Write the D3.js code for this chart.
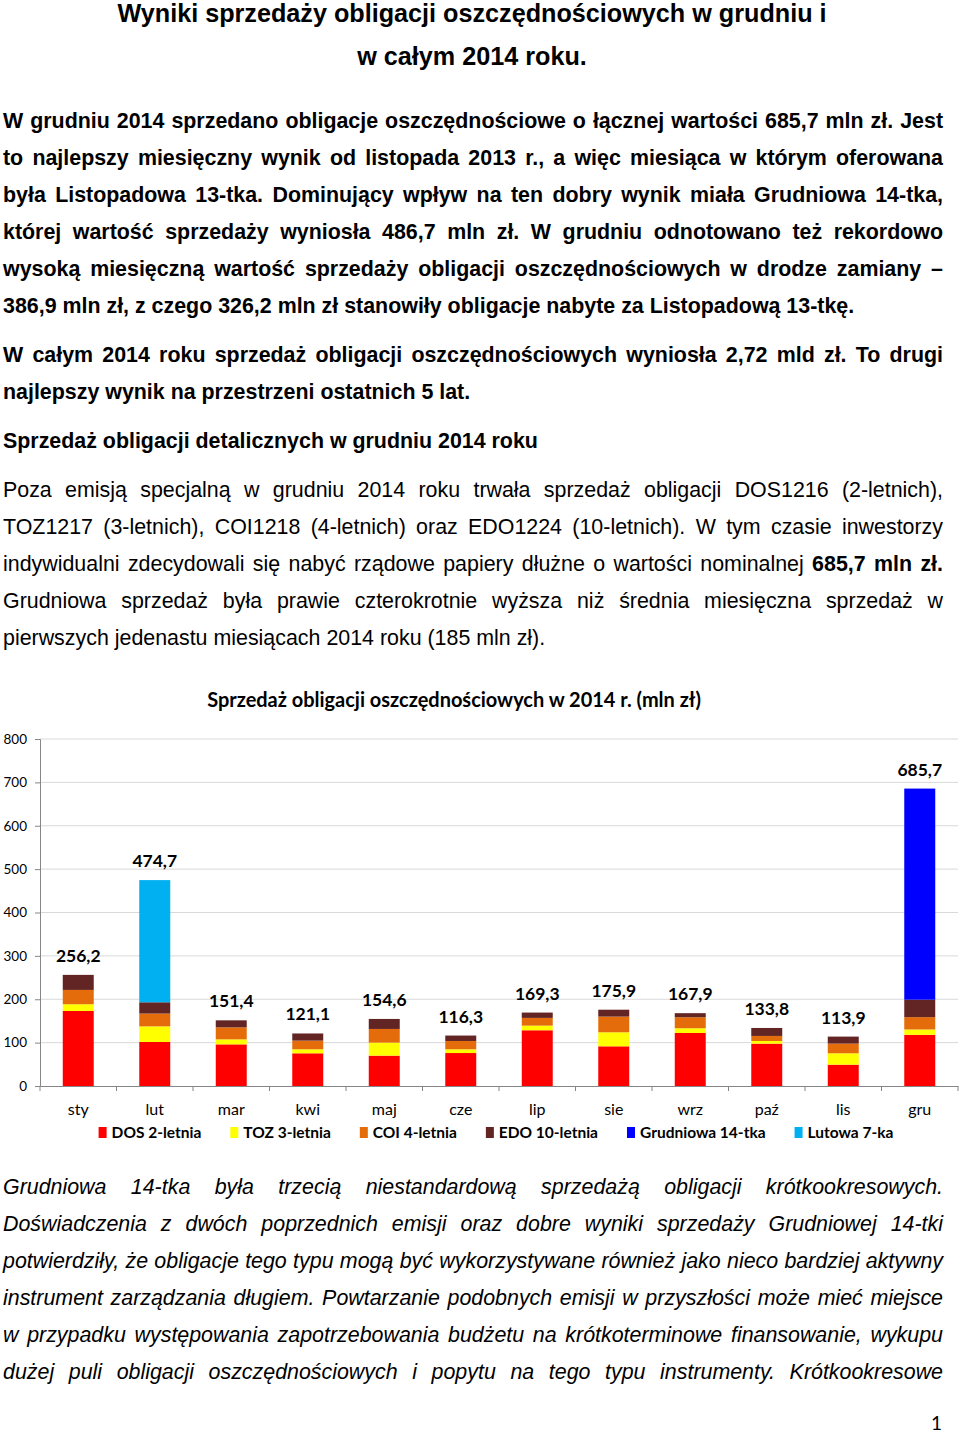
<!DOCTYPE html>
<html lang="pl">
<head>
<meta charset="utf-8">
<script src="https://cdn.jsdelivr.net/npm/d3@7"></script>
<style>
html,body{margin:0;padding:0;background:#fff;}
svg{display:block;}
.doc{font-family:"Liberation Sans",Arial,sans-serif;fill:#000;}
.chartf{font-family:Lato,"Open Sans",sans-serif;}
</style>
</head>
<body>
<svg id="page" width="960" height="1433"></svg>
<script>
// ---------- chart data ----------
const months = ["sty","lut","mar","kwi","maj","cze","lip","sie","wrz","paź","lis","gru"];
const dos       = [173, 101.5, 96, 75.4, 70, 76, 128.5, 91.5, 122.3, 97.7, 49.2, 118];
const toz       = [15.5, 36, 11.5, 9.2, 30, 8.6, 10.7, 32.3, 10.8, 6.1, 26.2, 12.3];
const coi       = [33, 29.5, 27.7, 20, 31.5, 19.2, 17.8, 36.2, 25.4, 11.6, 22.3, 28.5];
const edo       = [34.7, 26, 16.2, 16.5, 23.1, 12.5, 12.3, 15.9, 9.4, 18.4, 16.2, 40.2];
const grudniowa = [0, 0, 0, 0, 0, 0, 0, 0, 0, 0, 0, 486.7];
const lutowa    = [0, 281.7, 0, 0, 0, 0, 0, 0, 0, 0, 0, 0];
const totals    = [256.2, 474.7, 151.4, 121.1, 154.6, 116.3, 169.3, 175.9, 167.9, 133.8, 113.9, 685.7];
const seriesNames = ["DOS 2-letnia","TOZ 3-letnia","COI 4-letnia","EDO 10-letnia","Grudniowa 14-tka","Lutowa 7-ka"];
const seriesColors = ["#FF0000","#FFFF00","#E46C0A","#632523","#0000FF","#00B0F0"];
const yTicks = [0,100,200,300,400,500,600,700,800];
const chartTitle = "Sprzedaż obligacji oszczędnościowych w 2014 r. (mln zł)";

// ---------- document text ----------
const titleLines = ["Wyniki sprzedaży obligacji oszczędnościowych w grudniu i", "w całym 2014 roku."];
const bodyLines = [
  {y:128, w:"bold", j:true, parts:[["W grudniu 2014 sprzedano obligacje oszczędnościowe o łącznej wartości 685,7 mln zł. Jest"]]},
  {y:165, w:"bold", j:true, parts:[["to najlepszy miesięczny wynik od listopada 2013 r., a więc miesiąca w którym oferowana"]]},
  {y:202, w:"bold", j:true, parts:[["była Listopadowa 13-tka. Dominujący wpływ na ten dobry wynik miała Grudniowa 14-tka,"]]},
  {y:239, w:"bold", j:true, parts:[["której wartość sprzedaży wyniosła 486,7 mln zł. W grudniu odnotowano też rekordowo"]]},
  {y:276, w:"bold", j:true, parts:[["wysoką miesięczną wartość sprzedaży obligacji oszczędnościowych w drodze zamiany –"]]},
  {y:313, w:"bold", j:false, parts:[["386,9 mln zł, z czego 326,2 mln zł stanowiły obligacje nabyte za Listopadową 13-tkę."]]},
  {y:362, w:"bold", j:true, parts:[["W całym 2014 roku sprzedaż obligacji oszczędnościowych wyniosła 2,72 mld zł. To drugi"]]},
  {y:399, w:"bold", j:false, parts:[["najlepszy wynik na przestrzeni ostatnich 5 lat."]]},
  {y:448, w:"bold", j:false, parts:[["Sprzedaż obligacji detalicznych w grudniu 2014 roku"]]},
  {y:497, w:"normal", j:true, parts:[["Poza emisją specjalną w grudniu 2014 roku trwała sprzedaż obligacji DOS1216 (2-letnich),"]]},
  {y:534, w:"normal", j:true, parts:[["TOZ1217 (3-letnich), COI1218 (4-letnich) oraz EDO1224 (10-letnich). W tym czasie inwestorzy"]]},
  {y:571, w:"normal", j:true, parts:[["indywidualni zdecydowali się nabyć rządowe papiery dłużne o wartości nominalnej "],["685,7 mln zł.","bold"]]},
  {y:608, w:"normal", j:true, parts:[["Grudniowa sprzedaż była prawie czterokrotnie wyższa niż średnia miesięczna sprzedaż w"]]},
  {y:645, w:"normal", j:false, parts:[["pierwszych jedenastu miesiącach 2014 roku (185 mln zł)."]]},
  {y:1194, w:"normal", it:true, j:true, parts:[["Grudniowa 14-tka była trzecią niestandardową sprzedażą obligacji krótkookresowych."]]},
  {y:1231, w:"normal", it:true, j:true, parts:[["Doświadczenia z dwóch poprzednich emisji oraz dobre wyniki sprzedaży Grudniowej 14-tki"]]},
  {y:1268, w:"normal", it:true, j:true, parts:[["potwierdziły, że obligacje tego typu mogą być wykorzystywane również jako nieco bardziej aktywny"]]},
  {y:1305, w:"normal", it:true, j:true, parts:[["instrument zarządzania długiem. Powtarzanie podobnych emisji w przyszłości może mieć miejsce"]]},
  {y:1342, w:"normal", it:true, j:true, parts:[["w przypadku występowania zapotrzebowania budżetu na krótkoterminowe finansowanie, wykupu"]]},
  {y:1379, w:"normal", it:true, j:true, parts:[["dużej puli obligacji oszczędnościowych i popytu na tego typu instrumenty. Krótkookresowe"]]}
];

const svg = d3.select("#page");

// Title
svg.append("g").attr("class","doc")
  .selectAll("text").data(titleLines).join("text")
  .attr("x", 472).attr("y", (d,i)=> i===0 ? 22 : 65)
  .attr("text-anchor","middle").attr("font-size", 25.2).attr("font-weight","bold")
  .text(d=>d);

// Body text, justified by word spacing
const LEFT = 3, WIDTH = 940, FS = 21.4;
const bodyG = svg.append("g").attr("class","doc");
bodyLines.forEach(L => {
  const t = bodyG.append("text").attr("x", LEFT).attr("y", L.y)
    .attr("font-size", FS).attr("font-weight", L.w)
    .attr("font-style", L.it ? "italic" : "normal")
    .attr("xml:space","preserve");
  L.parts.forEach(p => {
    t.append("tspan").attr("font-weight", p[1] || L.w).text(p[0]);
  });
  if (L.j) {
    const natural = t.node().getComputedTextLength();
    const full = L.parts.map(p=>p[0]).join("");
    const spaces = (full.trim().match(/ /g) || []).length;
    if (spaces > 0) t.attr("word-spacing", (WIDTH - natural) / spaces);
  }
});

// Page number
svg.append("text").attr("class","chartf").attr("x", 942).attr("y", 1430)
  .attr("text-anchor","end").attr("font-size", 19).attr("fill","#000").text("1");

// ---------- Chart ----------
const x0 = 40, x1 = 958, yBase = 1086, yTop = 739;
const x = d3.scaleBand().domain(months).range([x0, x1]).paddingInner(0.595).paddingOuter(0.2975);
const y = d3.scaleLinear().domain([0, 800]).range([yBase, yTop]);

const chart = svg.append("g").attr("class","chartf");

// chart title, sized to span the same width as in the reference
const ttl = chart.append("text").attr("x", 454).attr("y", 707).attr("text-anchor","middle")
  .attr("font-size", 20).attr("font-weight","bold").attr("fill","#000").text(chartTitle);
const tw = ttl.node().getComputedTextLength();
ttl.attr("font-size", 20 * 494 / tw);

// gridlines
chart.append("g").selectAll("line").data(yTicks.filter(d=>d>0)).join("line")
  .attr("x1", x0).attr("x2", x1).attr("y1", d=>y(d)).attr("y2", d=>y(d))
  .attr("stroke", "#d9d9d9").attr("stroke-width", 1);

// stacked bars
const table = months.map((m,i)=>({month:m, s0:dos[i], s1:toz[i], s2:coi[i], s3:edo[i], s4:grudniowa[i], s5:lutowa[i]}));
const stacked = d3.stack().keys(["s0","s1","s2","s3","s4","s5"])(table);
chart.append("g").selectAll("g").data(stacked).join("g")
  .attr("fill", (d,i)=>seriesColors[i])
  .selectAll("rect").data(d=>d).join("rect")
  .attr("x", d=>x(d.data.month)).attr("width", x.bandwidth())
  .attr("y", d=>y(d[1])).attr("height", d=>Math.max(0, y(d[0]) - y(d[1])));

// y axis
const yAxis = d3.axisLeft(y).tickValues(yTicks).tickSize(5).tickPadding(8).tickFormat(d3.format("d"));
const ya = chart.append("g").attr("transform", `translate(${x0},0)`).call(yAxis);
ya.select(".domain").attr("stroke","#868686");
ya.selectAll(".tick line").attr("stroke","#868686");
ya.selectAll(".tick text").attr("font-size", 13.5).attr("fill","#000").attr("font-family","Lato,sans-serif");

// x axis
const xAxis = d3.axisBottom(x).tickSize(0).tickPadding(18);
const xa = chart.append("g").attr("transform", `translate(0,${yBase})`).call(xAxis);
xa.select(".domain").attr("stroke","#868686");
xa.selectAll(".tick text").attr("font-size", 16).attr("fill","#000").attr("font-family","Lato,sans-serif");
const bounds = d3.range(months.length + 1).map(i => x0 + i * x.step());
chart.append("g").selectAll("line").data(bounds).join("line")
  .attr("x1", d=>d).attr("x2", d=>d).attr("y1", yBase).attr("y2", yBase + 5)
  .attr("stroke","#868686");

// data labels
chart.append("g").selectAll("text").data(months).join("text")
  .attr("x", m => x(m) + x.bandwidth()/2)
  .attr("y", (m,i) => y(totals[i]) - 13)
  .attr("text-anchor","middle").attr("font-size", 17.5).attr("font-weight","bold").attr("fill","#000")
  .text((m,i) => String(totals[i]).replace(".", ","));

// legend
const leg = chart.append("g").attr("transform", "translate(0,1138)");
const items = leg.selectAll("g").data(seriesNames).join("g");
items.append("rect").attr("y", -11).attr("width", 8).attr("height", 11).attr("fill", (d,i)=>seriesColors[i]);
items.append("text").attr("x", 13).attr("font-size", 15.5).attr("font-weight","bold").attr("fill","#000").text(d=>d);
let cx = 0; const offs = [];
items.each(function(){ offs.push(cx); const w = this.querySelector("text").getComputedTextLength(); cx += 13 + w + 29; });
const startX = 496 - (cx - 29)/2;
items.attr("transform", (d,i)=>`translate(${startX + offs[i]},0)`);
</script>
</body>
</html>
